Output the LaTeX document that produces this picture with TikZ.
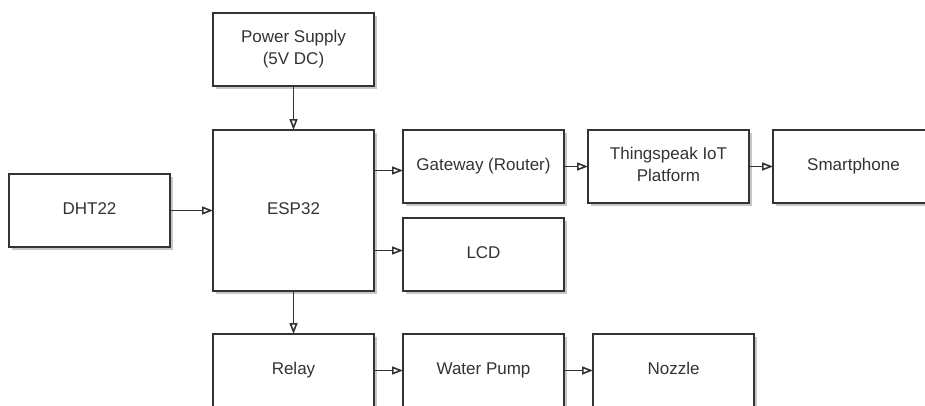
\documentclass[tikz,border=0pt]{standalone}
\usepackage{fontspec}
\setmainfont{Liberation Sans}
\usepackage{xcolor}
\usepackage{tikz}
\usetikzlibrary{positioning,arrows.meta,shadows}

\definecolor{edge}{HTML}{333333}

\begin{document}
\begin{tikzpicture}[
  x=1pt, y=-1pt,
  block/.style={draw=edge, line width=1.6pt, fill=white, text=edge,
    minimum width=161pt, minimum height=73pt, align=center,
    font=\fontsize{17}{22}\selectfont, inner sep=0pt, outer sep=0pt,
    execute at begin node={\vphantom{(Ay}}, execute at end node={\vphantom{(Ay}},
    drop shadow={shadow xshift=3pt, shadow yshift=-3pt, fill=black!22, opacity=1}},
  arr/.style={-{Triangle[open, length=11pt, width=8pt]}, line width=1.6pt, draw=edge},
  node distance=29pt,
]
  \clip (0,0) rectangle (925,405);

  \node[block] (power) at (293.5,49.5) {Power Supply\\(5V DC)};
  \node[block, minimum height=161pt] (esp) at (293.5,210.5) {ESP32};
  \node[block] (dht) at (89.5,210.5) {DHT22};

  \node[block, right=29pt of esp.north east, anchor=north west] (gateway) {Gateway (Router)};
  \node[block, right=24pt of gateway] (cloud) {Thingspeak IoT\\Platform};
  \node[block, right=24pt of cloud] (phone) {Smartphone};
  \node[block, right=29pt of esp.south east, anchor=south west] (lcd) {LCD};

  \node[block] (relay) at (293.5,370.5) {Relay};
  \node[block, right=of relay] (pump) {Water Pump};
  \node[block, right=of pump] (nozzle) {Nozzle};

  \draw[arr] (power) -- (esp);
  \draw[arr] (dht) -- (esp);
  \draw[arr] ([yshift=40pt]esp.east) -- ([yshift=40pt]esp.east -| gateway.west);
  \draw[arr] ([yshift=-40pt]esp.east) -- ([yshift=-40pt]esp.east -| lcd.west);
  \draw[arr] (gateway) -- (cloud);
  \draw[arr] (cloud) -- (phone);
  \draw[arr] (esp) -- (relay);
  \draw[arr] (relay) -- (pump);
  \draw[arr] (pump) -- (nozzle);
\end{tikzpicture}
\end{document}
